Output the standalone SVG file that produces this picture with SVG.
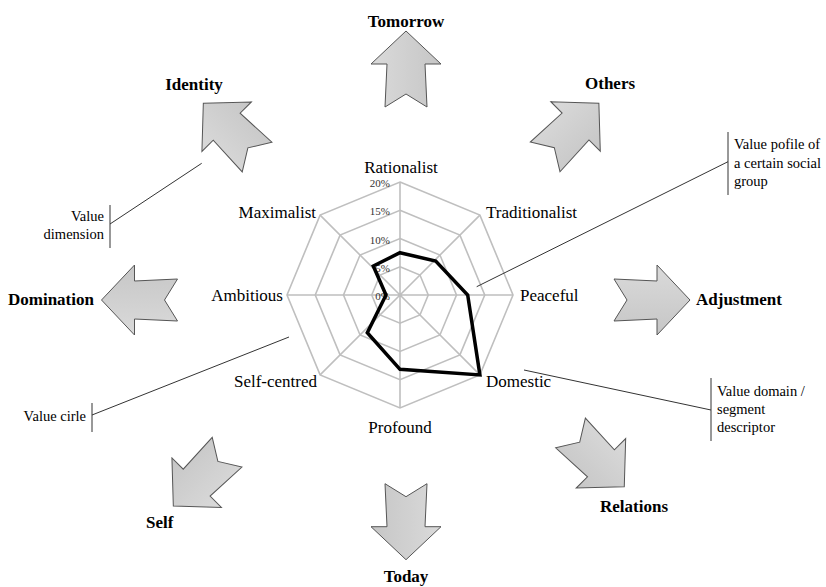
<svg xmlns="http://www.w3.org/2000/svg" width="826" height="587" viewBox="0 0 826 587">
<style>
.grid{fill:none;stroke:#bfbfbf;stroke-width:1.6}
.lbl{font-family:"Liberation Serif",serif;font-size:17px;fill:#000}
.tick{font-family:"Liberation Serif",serif;font-size:11px;fill:#333;text-anchor:end}
.dir{font-family:"Liberation Serif",serif;font-size:17px;font-weight:bold;fill:#000}
.note{font-family:"Liberation Serif",serif;font-size:14.5px;fill:#000}
.arrow{fill:url(#ag);stroke:#555;stroke-width:1}
.lead{stroke:#333;stroke-width:1;fill:none}
</style>
<defs>
<linearGradient id="ag" x1="0" y1="0" x2="1" y2="0">
<stop offset="0" stop-color="#dadada"/>
<stop offset="1" stop-color="#c6c6c6"/>
</linearGradient>
<path id="arr" d="M0,-38 L35,-5 L19,-5 L21,38 L0,25 L-21,38 L-19,-5 L-35,-5 Z"/>
</defs>
<rect width="826" height="587" fill="#fff"/>
<g id="radar">
<polygon class="grid" points="400,182 479.9,215.1 513,295 479.9,374.9 400,408 320.1,374.9 287,295 320.1,215.1"/>
<polygon class="grid" points="400,210.25 459.93,235.07 484.75,295 459.93,354.93 400,379.75 340.07,354.93 315.25,295 340.07,235.07"/>
<polygon class="grid" points="400,238.5 439.95,255.05 456.5,295 439.95,334.95 400,351.5 360.05,334.95 343.5,295 360.05,255.05"/>
<polygon class="grid" points="400,266.75 419.98,275.02 428.25,295 419.98,314.98 400,323.25 380.02,314.98 371.75,295 380.02,275.02"/>
<path class="grid" d="M400,295L400,182M400,295L479.9,215.1M400,295L513,295M400,295L479.9,374.9M400,295L400,408M400,295L320.1,374.9M400,295L287,295M400,295L320.1,215.1"/>
<text class="tick" x="390" y="187">20%</text>
<text class="tick" x="390" y="215">15%</text>
<text class="tick" x="390" y="244">10%</text>
<text class="tick" x="390" y="272">5%</text>
<text class="tick" x="390" y="300">0%</text>
<polygon id="profile" points="400,252.7 435.7,261 467.7,295 479.9,374.9 400,369.3 367.3,332.7 386,295 373.3,266" fill="none" stroke="#000" stroke-width="3.5" stroke-linejoin="miter"/>
<text class="lbl" x="401" y="173" text-anchor="middle">Rationalist</text>
<text class="lbl" x="486" y="218">Traditionalist</text>
<text class="lbl" x="520" y="301">Peaceful</text>
<text class="lbl" x="486" y="387">Domestic</text>
<text class="lbl" x="400" y="433" text-anchor="middle">Profound</text>
<text class="lbl" x="317" y="387" text-anchor="end">Self-centred</text>
<text class="lbl" x="283" y="301" text-anchor="end">Ambitious</text>
<text class="lbl" x="316" y="218" text-anchor="end">Maximalist</text>
</g>
<g id="n-tomorrow"><use href="#arr" class="arrow" transform="translate(406,69)"/><text class="dir" x="406" y="27" text-anchor="middle">Tomorrow</text></g>
<g id="n-others"><use href="#arr" class="arrow" transform="translate(572,130) rotate(45)"/><text class="dir" x="585" y="89">Others</text></g>
<g id="n-adjustment"><use href="#arr" class="arrow" transform="translate(652,300) rotate(90)"/><text class="dir" x="696" y="305">Adjustment</text></g>
<g id="n-relations"><use href="#arr" class="arrow" transform="translate(597.4,459.8) rotate(135)"/><text class="dir" x="600" y="512">Relations</text></g>
<g id="n-today"><use href="#arr" class="arrow" transform="translate(406,521.7) rotate(180)"/><text class="dir" x="406" y="582" text-anchor="middle">Today</text></g>
<g id="n-self"><use href="#arr" class="arrow" transform="translate(200.2,479.1) rotate(225)"/><text class="dir" x="146" y="528">Self</text></g>
<g id="n-domination"><use href="#arr" class="arrow" transform="translate(139.5,300) rotate(270)"/><text class="dir" x="8" y="305">Domination</text></g>
<g id="n-identity"><use href="#arr" class="arrow" transform="translate(230.2,130.2) rotate(315)"/><text class="dir" x="194" y="90" text-anchor="middle">Identity</text></g>
<g id="notes">
<path class="lead" d="M728,132V195M711,378V441M110,205V248M92,403V432"/>
<text class="note" x="734" y="149">Value pofile of</text>
<text class="note" x="734" y="168">a certain social</text>
<text class="note" x="734" y="186">group</text>
<text class="note" x="717" y="396">Value domain /</text>
<text class="note" x="717" y="414">segment</text>
<text class="note" x="717" y="432">descriptor</text>
<text class="note" x="104" y="221" text-anchor="end">Value</text>
<text class="note" x="104" y="239" text-anchor="end">dimension</text>
<text class="note" x="86" y="421" text-anchor="end">Value cirle</text>
</g>
<g id="connectors">
<line class="lead" x1="476.7" y1="286.7" x2="728" y2="161.7"/>
<line class="lead" x1="524" y1="370" x2="711" y2="410"/>
<line class="lead" x1="110" y1="224" x2="201.7" y2="163.3"/>
<line class="lead" x1="92" y1="415" x2="289" y2="337"/>
</g>
</svg>
